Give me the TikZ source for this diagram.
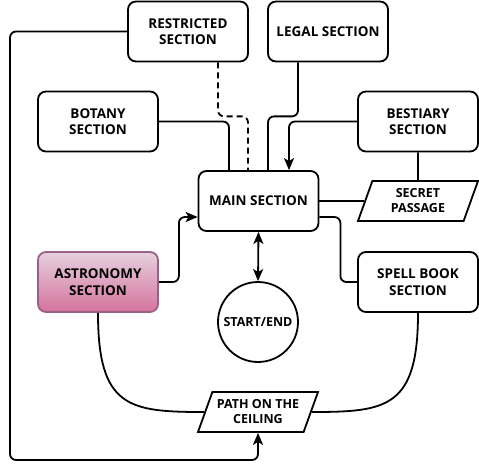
\documentclass[tikz,border=0pt]{standalone}
\usepackage{fontspec}
\setmainfont{Open Sans}
\usetikzlibrary{arrows.meta,shapes.geometric}
\definecolor{astrotop}{HTML}{E6D0DE}
\definecolor{astrobot}{HTML}{D5739D}
\definecolor{astroline}{HTML}{996185}

\begin{document}
\begin{tikzpicture}[x=1pt, y=-1pt, line width=1.8pt,
	room/.style={draw, rounded corners=8pt, minimum width=120pt, minimum height=60pt, align=center, font=\fontsize{13.5}{16.5}\selectfont\bfseries},
	passage/.style={draw, trapezium, trapezium left angle=65, trapezium right angle=115, trapezium stretches body, minimum width=120pt, minimum height=40pt, align=center, inner xsep=0pt, font=\fontsize{12.5}{15}\selectfont\bfseries},
	link/.style={rounded corners=6pt},
	tip/.style={-{Stealth[length=12pt,width=10pt,inset=3pt]}}]
		%%%%% START %%%%%
		\useasboundingbox (0, 0) rectangle (479, 470);
		
		\node[room] (restricted) at (188, 31.5) {RESTRICTED\\SECTION};
		\node[room] (legal) at (328, 31.5) {LEGAL SECTION};
		\node[room] (botany) at (98, 121.5) {BOTANY\\SECTION};
		\node[room] (bestiary) at (418, 121.5) {BESTIARY\\SECTION};
		\node[room] (main) at (258.5, 201) {MAIN SECTION};
		\node[passage] (secret) at (418, 201) {SECRET\\PASSAGE};
		\node[room, draw=astroline, top color=astrotop, bottom color=astrobot] (astro) at (98, 282) {ASTRONOMY\\SECTION};
		\node[room] (spell) at (418, 282) {SPELL BOOK\\SECTION};
		\node[draw, circle, minimum size=80pt, inner sep=0pt, font=\fontsize{12.5}{15}\selectfont\bfseries] (start) at (258, 322) {START/END};
		\node[passage] (ceiling) at (258, 412) {PATH ON THE\\CEILING};
		\coordinate (corner) at (10, 460);
		
		% paths into the main section
		\draw[link, dash pattern=on 6pt off 4pt] ([xshift=30pt]restricted.south) -- ++(0, 54) -| ([xshift=-10.5pt]main.north);
		\draw[link] (botany.east) -| ([xshift=-29.5pt]main.north);
		\draw[link] ([xshift=-30pt]legal.south) -- ++(0, 54) -| ([xshift=9.5pt]main.north);
		\draw[link, tip] (bestiary.west) -| ([xshift=30.5pt]main.north);
		\draw (bestiary.south) -- (secret.north);
		\draw (main.east) -- (secret.west);
		\draw[link] ([yshift=-16pt]main.east) -- ++(21, 0) |- (spell.west);
		\draw[link, tip] (astro.east) -- ++(20, 0) |- ([yshift=-16pt]main.west);
		\draw[{Stealth[length=12pt,width=10pt,inset=3pt]}-{Stealth[length=12pt,width=10pt,inset=3pt]}] (main.south) -- (start.north);
		
		% the ceiling
		\draw (astro.south) .. controls +(0, 95) and +(-75, 0) .. (ceiling.west);
		\draw (spell.south) .. controls +(0, 95) and +(75, 0) .. (ceiling.east);
		\draw[link, tip] (restricted.west) -| (corner) -| (ceiling.south);
		%%%%% END %%%%%
	\end{tikzpicture}
\end{document}
